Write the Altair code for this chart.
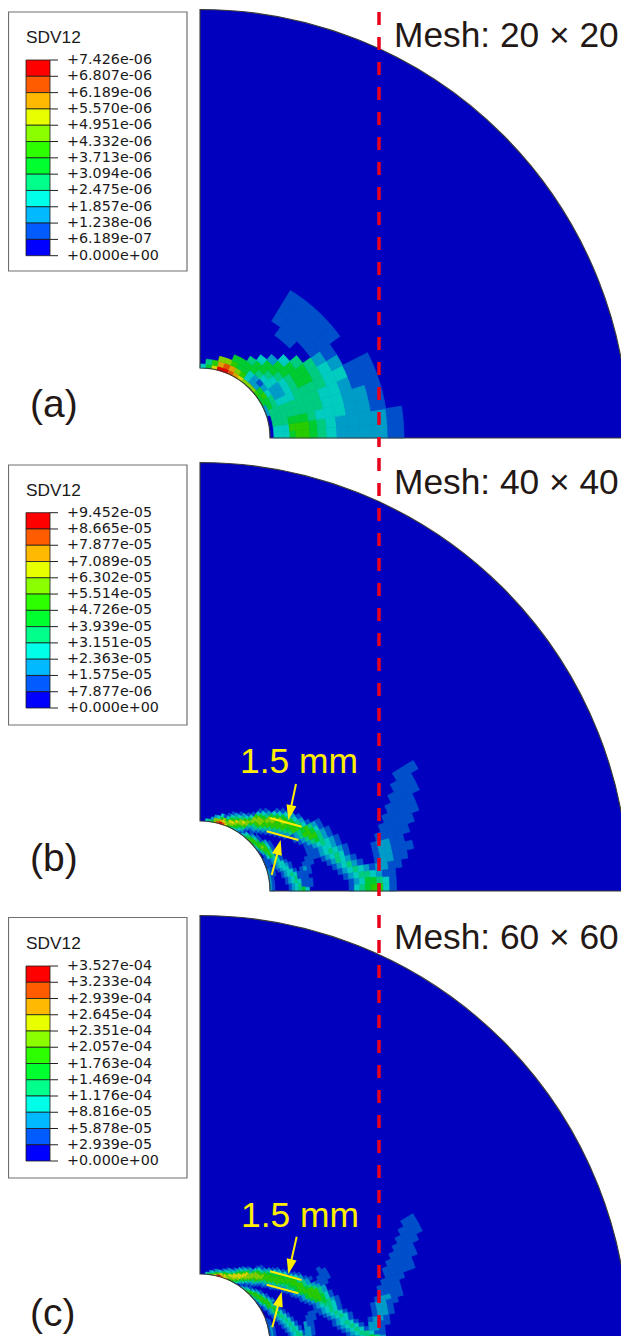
import math
import altair as alt
import pandas as pd

# ---------- picture frame (scale domains are the picture's pixel grid) ----------
W, H = 621, 1336
xs = alt.Scale(domain=[8, W], range=[0, W - 8], nice=False, zero=False)
ys = alt.Scale(domain=[8, H], range=[0, H - 8], nice=False, zero=False)

LEGEND_COLORS = ["#FF0000", "#FF5C00", "#FFB900", "#E8FF00", "#8BFF00", "#2EFF00",
                 "#00FF2E", "#00FF8B", "#00FFE8", "#00B9FF", "#005CFF", "#0000FF"]
FIELD_COLORS = ["#0000BE", "#0050CC", "#009CC8", "#00CCC0", "#00CC80", "#00CC30",
                "#28CC00", "#80D000", "#D8D800", "#E0A000", "#E05000", "#E00000"]

LABELS_A = ["+7.426e-06", "+6.807e-06", "+6.189e-06", "+5.570e-06", "+4.951e-06", "+4.332e-06",
            "+3.713e-06", "+3.094e-06", "+2.475e-06", "+1.857e-06", "+1.238e-06", "+6.189e-07", "+0.000e+00"]
LABELS_B = ["+9.452e-05", "+8.665e-05", "+7.877e-05", "+7.089e-05", "+6.302e-05", "+5.514e-05",
            "+4.726e-05", "+3.939e-05", "+3.151e-05", "+2.363e-05", "+1.575e-05", "+7.877e-06", "+0.000e+00"]
LABELS_C = ["+3.527e-04", "+3.233e-04", "+2.939e-04", "+2.645e-04", "+2.351e-04", "+2.057e-04",
            "+1.763e-04", "+1.469e-04", "+1.176e-04", "+8.816e-05", "+5.878e-05", "+2.939e-05", "+0.000e+00"]

# centre y, box top, box bottom, title y, bar top, bar bottom
PANELS = [
    dict(cy=438, box=(12, 271), title=38, bar=(60, 255.7), labels=LABELS_A, tag="(a)", tagy=405,
         mesh="Mesh: 20 × 20", meshy=36, dash=(12, 447)),
    dict(cy=891, box=(465, 725), title=491, bar=(512.7, 708), labels=LABELS_B, tag="(b)", tagy=859,
         mesh="Mesh: 40 × 40", meshy=483, dash=(458, 900)),
    dict(cy=1344, box=(917.5, 1178), title=944, bar=(966, 1161), labels=LABELS_C, tag="(c)", tagy=1314,
         mesh="Mesh: 60 × 60", meshy=938, dash=(915, 1336)),
]
OUTER_R = 428.5
HOLE_R = 70

# ---------- contour levels, per radial ring / angular column ----------
RINGS_A = [70, 74, 79, 84, 90, 96, 103, 110, 118, 127, 137, 148, 160, 173, 188, 204]
GRID_A = [  # one string per ring, angular cell 0 is next to the bottom edge
    "00002255677789abb853",
    "3344455652236 79a964",
    "33444443212355677",
    "334443223345555",
    "5654432234554",
    "665443334553",
    "66544444552",
    "5544445553",
    "443444554",
    "333334440011",
    "2233333211111",
    "2222232111111",
    "2222110011111",
    "221111",
    "11",
]

RINGS_B = [70, 72.5, 75, 77.6, 80.3, 83.1, 86, 89.1, 92.2, 95.4, 98.7, 102.2, 105.8, 109.5, 113.3, 117.3,
           121.4, 125.6, 130, 134.6, 139.3, 144.2, 149.2, 154.5, 159.9, 165.5, 171.2, 177.2, 183.4,
           189.9, 196.5, 203.4, 210.5, 217.9, 225.5, 233.4, 241.6, 250]
# (angular column, first ring, levels)
CELLS_B = [
    # main shear band
    (37, 0, "3"), (36, 0, "4"), (35, 0, "52"), (34, 0, "772"), (33, 0, "a73"), (32, 0, "b953"),
    (31, 0, "a871"), (30, 0, "87531"), (29, 0, "678531"), (28, 0, "578642"), (27, 0, "4678531"),
    (26, 0, "3567742"), (25, 0, "23578631"), (24, 0, "124677531"), (23, 2, "124677631"),
    (22, 3, "124677531"), (21, 3, "124677642"), (20, 4, "1246677531"), (19, 5, "1246677531"),
    (18, 6, "1246667531"), (17, 7, "124667642"), (16, 8, "124666531"), (15, 9, "12456642"),
    (14, 10, "12466531"), (13, 12, "12456421"), (12, 12, "12466531"), (11, 13, "12466421"),
    (10, 14, "1245421"), (9, 15, "1234321"), (8, 16, "123321"), (7, 16, "1234321"), (6, 17, "123431"),
    (5, 18, "124321"), (4, 19, "123421"), (3, 20, "1234321"), (2, 21, "1234432"),
    (1, 22, "12355431"), (0, 22, "13456631"),
    # right plume
    (2, 27, "211"), (3, 27, "2211"), (4, 27, "12211"), (5, 27, "122111"), (6, 27, "12211"),
    (7, 28, "11111"), (8, 29, "11111"), (9, 30, "11111"), (10, 31, "1111"), (11, 32, "1111"),
    (12, 33, "111"), (13, 34, "111"),
    # lower band
    (23, 0, "31"), (22, 0, "43"), (21, 0, "541"), (20, 0, "652"), (19, 0, "6631"), (18, 0, "5641"),
    (17, 0, "4651"), (16, 0, "36652"), (15, 0, "257631"), (14, 0, "146631"), (13, 1, "25641"),
    (12, 1, "14631"), (11, 1, "13541"), (10, 2, "12341"), (9, 2, "12431"), (8, 3, "12331"),
    (7, 3, "123321"), (6, 4, "12331"), (5, 5, "12331"), (4, 5, "123431"), (3, 6, "12341"),
    (2, 6, "123431"), (1, 7, "12341"), (0, 7, "123453"),
    # hole edge
    (0, 0, "21"), (1, 0, "21"), (2, 0, "21"), (3, 0, "21"), (4, 0, "21"), (5, 0, "211"), (6, 0, "211"),
    (7, 0, "211"), (8, 0, "11"), (9, 0, "11"), (10, 0, "11"), (11, 0, "1"),
    # thin branch
    (1, 12, "11"), (2, 11, "111"), (3, 11, "11"), (4, 11, "111"), (5, 11, "121"), (6, 12, "111"),
    (7, 13, "111"), (8, 14, "11"), (9, 14, "1"),
]

RINGS_C = [70, 72.1, 74.3, 76.5, 78.8, 81.1, 83.6, 86.1, 88.7, 91.3, 94.1, 96.9, 99.8, 102.8, 105.9, 109.1,
           112.3, 115.7, 119.2, 122.7, 126.4, 130.2, 134.1, 138.2, 142.3, 146.6, 151, 155.5, 160.2, 165,
           169.9, 175, 180.3, 185.7, 191.3, 197, 202.9, 209, 215.3, 221.7, 228.4, 235.2, 242.3, 249.6]
CELLS_C = [
    # main shear band
    (56, 0, "3"), (55, 0, "4"), (54, 0, "52"), (53, 0, "63"), (52, 0, "741"), (51, 0, "852"),
    (50, 0, "a62"), (49, 0, "b73"), (48, 0, "a841"), (47, 0, "9752"), (46, 0, "88631"), (45, 0, "87632"),
    (44, 0, "77842"), (43, 0, "678531"), (42, 0, "678842"), (41, 0, "5788642"), (40, 0, "46788531"),
    (39, 0, "35788642"), (38, 1, "35788631"), (37, 1, "24678852"), (36, 1, "13577742"),
    (35, 2, "135777531"), (34, 2, "1246777531"), (33, 3, "124677631"), (32, 3, "124677642"),
    (31, 4, "124677642"), (30, 5, "124666531"), (29, 6, "124666531"), (28, 6, "124666542"),
    (27, 7, "124666531"), (26, 8, "124666531"), (25, 8, "124666531"), (24, 9, "124566531"),
    (23, 10, "124566531"), (22, 11, "12456642"), (21, 11, "124566421"), (20, 12, "124566421"),
    (19, 13, "1256642"), (18, 13, "125665421"), (17, 14, "125666421"), (16, 15, "12566642"),
    (15, 15, "12566642"), (14, 16, "12566531"), (13, 17, "1256531"), (12, 18, "1245421"),
    (11, 18, "1234431"), (10, 19, "123431"), (9, 19, "123431"), (8, 20, "123431"), (7, 21, "123431"),
    (6, 22, "12331"), (5, 22, "123431"), (4, 23, "123431"), (3, 24, "123431"), (2, 25, "1234431"),
    (1, 26, "1234542"), (0, 26, "1245531"),
    # right plume
    (1, 30, "11"), (2, 30, "211"), (3, 30, "221"), (4, 30, "2211"), (5, 30, "1221"), (6, 31, "1221"),
    (7, 31, "1221"), (8, 31, "12211"), (9, 32, "12211"), (10, 33, "1111"), (11, 33, "1111"),
    (12, 34, "1111"), (13, 35, "11111"), (14, 35, "11111"), (15, 36, "11111"), (16, 37, "1111"),
    (17, 38, "1111"), (18, 39, "1111"), (19, 40, "111"), (20, 41, "11"),
    # upper spur
    (21, 23, "1"), (20, 23, "11"), (19, 22, "111"), (18, 22, "111"), (17, 23, "1"),
    # thin branch
    (10, 16, "111"), (9, 15, "111"), (8, 15, "111"), (7, 14, "211"), (6, 14, "211"), (5, 14, "221"),
    (4, 13, "1221"), (3, 13, "1221"), (2, 13, "122"), (1, 13, "132"), (0, 13, "133"),
    # lower band
    (36, 0, "1"), (35, 0, "2"), (34, 0, "31"), (33, 0, "42"), (32, 0, "531"), (31, 0, "641"), (30, 0, "652"),
    (29, 0, "5631"), (28, 0, "4652"), (27, 0, "46631"), (26, 0, "35641"), (25, 0, "25652"), (24, 0, "246631"),
    (23, 0, "146641"), (22, 0, "135652"), (21, 0, "1256631"), (20, 1, "135642"), (19, 1, "125641"),
    (18, 1, "125631"), (17, 2, "124641"), (16, 2, "124541"), (15, 2, "124531"), (14, 3, "124531"),
    (13, 3, "124431"), (12, 4, "124431"), (11, 4, "123431"), (10, 5, "123431"), (9, 5, "123431"),
    (8, 6, "123431"), (7, 6, "123431"), (6, 7, "123431"), (5, 7, "123431"), (4, 8, "123431"),
    (3, 8, "123441"), (2, 9, "123442"), (1, 9, "123452"), (0, 9, "123453"),
    # hole edge
    (0, 0, "121"), (1, 0, "121"), (2, 0, "121"), (3, 0, "121"), (4, 0, "121"), (5, 0, "121"), (6, 0, "121"),
    (7, 0, "121"), (8, 0, "121"), (9, 0, "12"), (10, 0, "11"), (11, 0, "11"), (12, 0, "11"), (13, 0, "1"),
]

# annotation of the band width: two bars and two arrows (picture pixels)
BARS = [(270, 818, 301.7, 826.7), (266.7, 831.3, 298.3, 840), (270, 1271.3, 301.7, 1280), (266.7, 1284.7, 298.3, 1293.3)]
SHAFTS = [(296, 784, 290, 812), (271.7, 875, 278.5, 849), (296.7, 1236.7, 290.3, 1265), (272.3, 1327.3, 279.4, 1300.5)]
HEADS = [(289.9, 812.6, 192), (278.8, 847.3, 14.5), (290, 1266.7, 192.5), (279.8, 1299, 14.8)]
WIDTH_TEXT = [("1.5 mm", 299, 762), ("1.5 mm", 300, 1216)]
ARROW_SHAPE = "M-0.67,1L0,-1L0.67,1Z"


# ---------- tables ----------
def cell(cy, r1, r2, a1, a2, level):
    return dict(x=200, y=cy, r1=r1, r2=r2, t1=math.radians(90 - a2), t2=math.radians(90 - a1),
                color=FIELD_COLORS[level])


rows = []
cy = PANELS[0]["cy"]
for i, s in enumerate(GRID_A):
    for k, ch in enumerate(s.replace(" ", "")):
        lv = int(ch, 16)
        if lv:
            rows.append(cell(cy, RINGS_A[i], RINGS_A[i + 1], k * 4.5, (k + 1) * 4.5, lv))


def sparse(cells, rings, step, cy):
    best = {}
    for k, start, s in cells:
        for j, ch in enumerate(s):
            key = (k, start + j)
            best[key] = max(best.get(key, 0), int(ch, 16))
    out = []
    for (k, i), lv in best.items():
        if lv and i + 1 < len(rings):
            out.append(cell(cy, rings[i], rings[i + 1], k * step, (k + 1) * step, lv))
    return out


rows += sparse(CELLS_B, RINGS_B, 2.25, PANELS[1]["cy"])
rows += sparse(CELLS_C, RINGS_C, 1.5, PANELS[2]["cy"])
cells_df = pd.DataFrame(rows)

disc_df = pd.DataFrame([dict(x=200, y=p["cy"], r1=HOLE_R, r2=OUTER_R, t1=0.0, t2=math.pi / 2) for p in PANELS])

box_rows, tile_rows, tick_rows, label_rows, title_rows, tag_rows, mesh_rows, dash_rows = [], [], [], [], [], [], [], []
for p in PANELS:
    box_rows.append(dict(x=8.5, x2=187, y=p["box"][0], y2=p["box"][1]))
    title_rows.append(dict(x=26, y=p["title"], t="SDV12"))
    tag_rows.append(dict(x=30, y=p["tagy"], t=p["tag"]))
    mesh_rows.append(dict(x=394, y=p["meshy"], t=p["mesh"]))
    dash_rows.append(dict(x=379, y=p["dash"][0], y2=p["dash"][1]))
    top, bot = p["bar"]
    n = len(LEGEND_COLORS)
    for i, c in enumerate(LEGEND_COLORS):
        tile_rows.append(dict(x=26, x2=50, y=top + (bot - top) * i / n, y2=top + (bot - top) * (i + 1) / n, color=c))
    for i, lab in enumerate(p["labels"]):
        yy = top + (bot - top) * i / n
        tick_rows.append(dict(x=50, x2=58, y=yy))
        label_rows.append(dict(x=67, y=yy, t=lab))


def X(f="x"):
    return alt.X(f"{f}:Q", scale=xs, axis=None)


def Y(f="y"):
    return alt.Y(f"{f}:Q", scale=ys, axis=None)


def arc_enc():
    return dict(x=X(), y=Y(),
                theta=alt.Theta("t1:Q", scale=None, stack=False), theta2=alt.Theta2("t2:Q"),
                radius=alt.Radius("r1:Q", scale=None), radius2=alt.Radius2("r2:Q"))


def text_layer(rows_, **kw):
    return alt.Chart(pd.DataFrame(rows_)).mark_text(baseline="middle", **kw).encode(x=X(), y=Y(), text="t:N")


def seg_layer(segs, color, width):
    d = pd.DataFrame(segs, columns=["x", "y", "x2", "y2"])
    return alt.Chart(d).mark_rule(color=color, strokeWidth=width).encode(x=X(), y=Y(), x2="x2:Q", y2="y2:Q")


YELLOW = "#FFEE00"
layers = [
    alt.Chart(disc_df).mark_arc(color="#0000BE").encode(**arc_enc()),
    alt.Chart(cells_df).mark_arc(strokeWidth=0.7).encode(
        color=alt.Color("color:N", scale=None), stroke=alt.Stroke("color:N", scale=None), **arc_enc()),
    alt.Chart(disc_df).mark_arc(fillOpacity=0, stroke="#3A3A3A", strokeWidth=1.1).encode(**arc_enc()),
    alt.Chart(pd.DataFrame(dash_rows)).mark_rule(color="#E8001C", strokeWidth=3.5, strokeDash=[13, 12]).encode(
        x=X(), y=Y(), y2="y2:Q"),
    alt.Chart(pd.DataFrame(box_rows)).mark_rect(fill="white", stroke="#707070", strokeWidth=1.2).encode(
        x=X(), x2="x2:Q", y=Y(), y2="y2:Q"),
    alt.Chart(pd.DataFrame(tile_rows)).mark_rect(stroke="#1A1A1A", strokeWidth=0.8).encode(
        x=X(), x2="x2:Q", y=Y(), y2="y2:Q", color=alt.Color("color:N", scale=None)),
    alt.Chart(pd.DataFrame(tick_rows)).mark_rule(color="#222222", strokeWidth=1).encode(x=X(), x2="x2:Q", y=Y()),
    text_layer(label_rows, font="DejaVu Sans", fontSize=14.3, align="left", color="#1A1A1A"),
    text_layer(title_rows, font="Liberation Sans", fontSize=17.3, align="left", color="#1A1A1A"),
    text_layer(tag_rows, font="Liberation Sans", fontSize=39, align="left", color="#231815"),
    text_layer(mesh_rows, font="Liberation Sans", fontSize=35.3, align="left", color="#231815"),
    seg_layer(BARS, YELLOW, 2),
    seg_layer(SHAFTS, YELLOW, 2),
    alt.Chart(pd.DataFrame(HEADS, columns=["x", "y", "a"])).mark_point(
        shape=ARROW_SHAPE, filled=True, opacity=1, color=YELLOW, size=225).encode(
        x=X(), y=Y(), angle=alt.Angle("a:Q", scale=None)),
    text_layer([dict(t=t, x=x, y=y) for t, x, y in WIDTH_TEXT], font="Liberation Sans", fontSize=35.4,
               align="center", color=YELLOW),
]

chart = alt.layer(*layers).properties(
    width=W - 8, height=H - 8, padding=0, autosize=alt.AutoSizeParams(type="none"), background="white"
).configure_view(stroke=None)

chart.save("out.html", embed_options={"renderer": "svg", "actions": False})
